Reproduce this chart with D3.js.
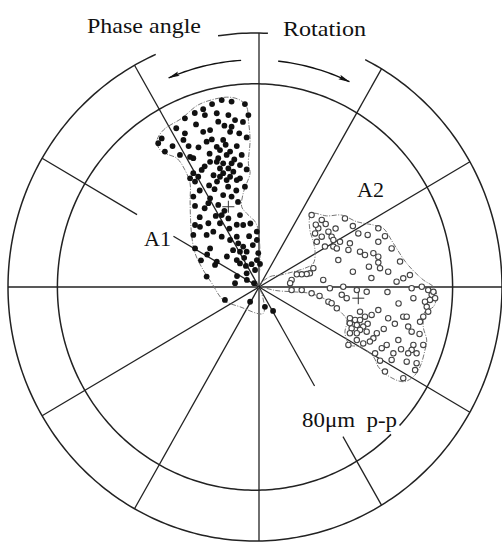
<!DOCTYPE html>
<html>
<head>
<meta charset="utf-8">
<script src="https://cdn.jsdelivr.net/npm/d3@7"></script>
<style>
body { margin: 0; background: #fff; }
svg { display: block; }
</style>
</head>
<body>
<svg id="chart" width="502" height="545"></svg>
<script>
// vibration vectors in um p-p, [horizontal component, vertical component]
var a1Points = [[-15.1,73.6],[-11.1,73.0],[-5.7,72.0],[-22.6,70.0],[-17.1,68.4],[-21.9,67.7],[-12.4,67.7],[-30.0,66.4],
  [-4.3,67.7],[-16.5,65.1],[-9.7,65.7],[-11.1,63.1],[-19.8,61.8],[-22.6,61.1],[-11.7,61.1],[-30.0,60.5],[-19.1,58.1],
  [-5.0,58.9],[-21.2,57.2],[-14.5,57.9],[-30.6,57.9],[-39.4,58.5],[-40.8,56.6],[-38.1,53.3],[-17.1,55.2],[-15.8,53.9],
  [-11.7,53.3],[-32.0,52.0],[-13.1,52.0],[-7.0,52.0],[-16.5,50.7],[-26.6,50.7],[-19.8,49.3],[-17.1,49.3],[-14.5,48.7],
  [-11.1,48.7],[-7.7,48.0],[-5.0,46.3],[-15.8,46.7],[-12.4,46.7],[-14.5,44.8],[-10.4,45.4],[-23.2,46.1],[-26.6,44.8],
  [-27.9,42.8],[-24.6,43.4],[-7.7,42.8],[-9.0,42.1],[-25.9,41.5],[-15.8,43.4],[-11.7,43.4],[-13.1,42.1],[-5.7,39.5],
  [-26.6,35.6],[-19.8,34.9],[-14.5,36.2],[-11.1,35.6],[-16.5,32.3],[-7.7,28.3],[-15.1,28.3],[-12.4,27.0],[-15.8,25.1],
  [-20.5,25.1],[-23.9,23.7],[-25.9,24.4],[-6.4,24.4],[-0.9,21.8],[-21.2,20.5],[-15.1,19.8],[-9.0,19.8],[-11.7,18.5],
  [-26.6,20.5],[-0.9,18.5],[-8.4,17.2],[-6.4,15.9],[-7.7,13.9],[-5.0,13.9],[-0.3,13.3],[-19.8,15.2],[-25.9,15.2],
  [-17.1,10.0],[-17.8,8.7],[-9.0,10.6],[-7.7,9.3],[-0.9,10.6],[-1.6,6.7],[-5.0,5.4],[-21.2,4.1],[-9.7,1.5],[-13.8,-5.1],
  [-3.6,-5.8],[2.4,-7.8],[5.7,-9.4],[-27.9,51.2],[-25.9,31.9],[-8.9,4.3],[-4.9,2.8],[-5.3,8.3],[0.4,9.1],[-13.5,56.0],
  [-10.0,50.2],[-18.4,44.0],[-9.2,38.0],[-14.0,30.0],[-20.2,40.0],[-12.0,23.0],[-18.0,38.5],[-22.0,31.0],
  [-3.5,25.0],[-2.5,16.5],[-4.0,20.0],[-6.0,11.5],[-3.0,9.0],[-10.5,14.5],[-13.0,12.0],[-23.5,10.5],[-21.0,12.8],
  [-24.0,27.5],[-18.5,21.8],[-9.0,24.5],[-17.5,28.0],[-20.5,33.0],[-8.5,33.5],[-24.0,38.0],[-17.0,41.5],[-12.5,39.5],
  [-20.0,52.5],[-9.0,55.5],[-24.5,55.0],[-28.5,55.5],[-35.0,55.5],[-14.0,63.5],[-25.5,64.0],[-8.0,60.5],[-6.5,65.0],
  [-19.0,72.0],[-26.0,68.5],[-33.5,62.5],[-22.0,47.5],[-2.0,1.5]];

var a2Points = [[21.3,28.3],[25.4,26.4],[34.8,27.0],[24.0,23.1],[28.1,21.8],[22.7,21.1],[25.4,19.8],[29.4,19.8],
  [30.1,18.5],[32.8,17.8],[40.2,21.1],[48.3,23.1],[36.8,17.2],[48.3,17.8],[30.1,15.9],[26.7,15.9],[31.5,15.2],[23.4,17.8],
  [36.2,14.6],[40.9,13.9],[42.9,12.6],[46.3,13.3],[48.3,11.9],[53.7,15.2],[32.1,10.6],[48.3,9.6],[49.0,7.4],[52.3,6.0],
  [22.0,7.4],[20.6,5.4],[19.3,5.1],[17.3,5.0],[15.3,5.0],[13.2,2.8],[12.6,1.5],[26.0,2.8],[55.7,2.1],[58.4,3.4],[61.1,4.7],
  [57.1,10.0],[17.3,-1.2],[21.3,-2.5],[13.2,-1.2],[28.7,-0.5],[34.1,0.1],[39.6,-1.2],[43.6,-1.9],[33.5,-3.1],[35.5,-4.4],
  [28.1,-5.8],[29.4,-6.4],[31.5,-8.4],[48.3,-9.1],[45.6,-11.0],[36.8,-12.3],[38.9,-13.0],[40.9,-13.0],[42.9,-11.7],
  [36.8,-14.3],[39.6,-15.0],[42.2,-15.6],[37.5,-16.3],[40.9,-16.9],[36.8,-18.2],[39.6,-18.2],[43.6,-17.6],[47.7,-18.2],
  [46.3,-20.2],[52.3,-12.3],[58.4,-11.7],[59.8,-11.7],[61.8,-0.5],[65.9,0.1],[62.5,-4.4],[68.5,-1.2],[69.9,-3.1],
  [71.3,-4.4],[69.2,-5.1],[67.2,-5.8],[70.6,-1.9],[67.9,-7.8],[68.5,-9.7],[66.5,-11.7],[65.2,-13.7],[60.4,-15.6],
  [61.8,-17.6],[56.4,-20.9],[62.5,-22.8],[61.8,-24.8],[60.4,-26.1],[63.8,-26.1],[66.5,-22.8],[51.7,-22.8],[49.7,-24.1],
  [42.2,-22.2],[44.9,-21.5],[47.0,-26.1],[54.4,-26.1],[53.7,-28.7],[59.8,-29.4],[63.8,-30.0],[63.2,-32.7],[51.0,-33.3],
  [58.4,-35.9],[36.2,-22.8],[39.6,-20.9],[40.9,-9.7],
  [24.5,-3.5],[23.0,24.5],[27.0,24.8],[31.0,23.0],[38.0,24.0],[44.0,20.5],[51.0,20.0],[44.5,8.0],[38.0,6.0],[45.5,3.5],
  [52.0,-2.0],[56.5,-6.5],[50.5,-16.5],[55.0,-14.5],[57.5,-24.5],[49.0,-29.0],[65.0,-18.5],[44.0,-14.5]];

// envelopes drawn round each group
var a1Outline = [[-0.3,0.1],[0.4,8.0],[-0.3,22.4],[-1.6,25.7],[-5.0,29.0],[-7.0,31.6],[-6.4,36.9],[-5.0,40.8],[-3.6,44.8],
  [-4.3,48.7],[-3.6,57.9],[-4.3,65.7],[-5.0,71.0],[-7.7,73.6],[-11.7,74.7],[-16.5,74.3],[-24.6,71.7],[-31.3,66.4],
  [-38.7,61.8],[-41.4,57.2],[-39.4,53.3],[-33.3,50.7],[-30.0,46.1],[-27.9,40.8],[-27.9,34.3],[-27.7,26.4],[-27.2,19.8],
  [-25.9,13.3],[-22.6,6.7],[-19.1,1.5],[-14.5,-5.1],[-7.7,-7.8],[1.7,-10.4],[1.1,-2.5]];
var a2Outline = [[0.4,0.8],[4.5,4.1],[8.5,4.7],[13.9,6.0],[18.6,7.4],[22.0,9.3],[22.7,13.9],[22.0,17.8],[20.6,22.4],
  [20.6,27.7],[22.0,29.0],[27.4,28.0],[33.5,28.3],[39.6,25.7],[46.3,24.4],[50.3,23.1],[54.4,17.2],[59.8,9.3],[66.5,2.8],
  [70.6,0.1],[71.9,-3.1],[70.6,-7.8],[67.2,-9.7],[66.5,-15.6],[67.9,-20.9],[67.2,-24.8],[65.2,-31.4],[62.5,-35.3],
  [58.4,-37.3],[51.7,-34.6],[48.3,-31.4],[46.3,-27.4],[40.9,-23.5],[36.8,-22.8],[34.8,-18.2],[35.5,-13.0],[31.5,-8.4],
  [27.4,-5.1],[20.6,-2.5],[13.9,-1.9],[5.8,-1.2]];

// mean vector of each group
var means = [[-12.4,31.6],[40.2,-4.4]];

// grid
var rings = [80, 100];            // um p-p
var spokeAngles = [0, 30, 60, 90, 120, 150, 180, 210, 240, 270, 300, 330];

var svg = d3.select("#chart");
var serif = "'Liberation Serif', 'Times New Roman', Times, serif";

var ox = 259, oy = 287;           // where the spokes meet
var ringCx = 255;                 // the drawn rings sit a little left of it
var rxS = d3.scaleLinear().domain([0, 100]).range([0, 247]);
var ryS = d3.scaleLinear().domain([0, 100]).range([0, 254]);
var x = d3.scaleLinear().domain([-100, 100]).range([ox - 247, ox + 247]);
var y = d3.scaleLinear().domain([-100, 100]).range([oy + 254, oy - 254]);

var rad = Math.PI / 180;
function ringPt(r, a) {
  return [ringCx + rxS(r) * Math.cos(a * rad), oy - ryS(r) * Math.sin(a * rad)];
}
function arcPts(r, a0, a1) {
  var pts = [];
  for (var a = a0; a < a1; a += 1) pts.push(ringPt(r, a));
  pts.push(ringPt(r, a1));
  return pts;
}
var line = d3.line();

// radius (um) where a spoke from the origin meets the outer ring
var u0 = (ox - ringCx) / rxS(100);
function edge(a) {
  var c = Math.cos(a * rad);
  return 100 * (-u0 * c + Math.sqrt(u0 * u0 * c * c - u0 * u0 + 1));
}

// gaps left in spokes for the labels
var spokeGaps = { 150: [[0, 40], [57, null]], 300: [[0, 45], [68, null]] };

var grid = svg.append("g").attr("stroke", "#222").attr("fill", "none");

spokeAngles.forEach(function(a) {
  var segs = spokeGaps[a] || [[0, null]];
  segs.forEach(function(s) {
    var r0 = s[0], r1 = s[1] === null ? edge(a) : s[1];
    grid.append("line")
      .attr("x1", x(r0 * Math.cos(a * rad))).attr("y1", y(r0 * Math.sin(a * rad)))
      .attr("x2", x(r1 * Math.cos(a * rad))).attr("y2", y(r1 * Math.sin(a * rad)))
      .attr("stroke-width", 1.3);
  });
});

// inner ring, broken where the scale label sits
grid.append("path").attr("d", line(arcPts(rings[0], -43, 313.5))).attr("stroke-width", 1.5);
// outer ring, open at the top for the titles
grid.append("path").attr("d", line(arcPts(rings[1], 113.7, 423.5))).attr("stroke-width", 1.5);
grid.append("path").attr("d", line(arcPts(rings[1], 87, 98.6))).attr("stroke-width", 1.5);

// rotation arrows
svg.append("defs").append("marker")
  .attr("id", "head").attr("viewBox", "0 0 12 6")
  .attr("refX", 11).attr("refY", 3)
  .attr("markerWidth", 12).attr("markerHeight", 6)
  .attr("markerUnits", "userSpaceOnUse")
  .attr("orient", "auto")
  .append("path").attr("d", "M0,0.6 L12,3 L0,5.4 L2,3 Z").attr("fill", "#111");

svg.append("path").attr("d", line(arcPts(89.4, 93.6, 113)))
  .attr("fill", "none").attr("stroke", "#111").attr("stroke-width", 1.4).attr("marker-end", "url(#head)");
svg.append("path").attr("d", line(arcPts(89.4, 64.7, 84).reverse()))
  .attr("fill", "none").attr("stroke", "#111").attr("stroke-width", 1.4).attr("marker-end", "url(#head)");

// envelopes
var env = d3.line().x(function(d) { return x(d[0]); }).y(function(d) { return y(d[1]); })
  .curve(d3.curveCatmullRomClosed);
[a1Outline, a2Outline].forEach(function(o) {
  svg.append("path").attr("d", env(o))
    .attr("fill", "none").attr("stroke", "#777").attr("stroke-width", 1)
    .attr("stroke-dasharray", "5,1.5,1,1.5");
});

// points
svg.append("g").selectAll("circle").data(a2Points).enter().append("circle")
  .attr("cx", function(d) { return x(d[0]); })
  .attr("cy", function(d) { return y(d[1]); })
  .attr("r", 2.7)
  .attr("fill", "#fff").attr("stroke", "#444").attr("stroke-width", 1.1);

svg.append("g").selectAll("circle").data(a1Points).enter().append("circle")
  .attr("cx", function(d) { return x(d[0]); })
  .attr("cy", function(d) { return y(d[1]); })
  .attr("r", 2.9)
  .attr("fill", "#111");

// mean markers
svg.append("g").selectAll("path").data(means).enter().append("path")
  .attr("d", function(d) {
    var cx = x(d[0]), cy = y(d[1]);
    return "M" + (cx - 6) + "," + cy + "H" + (cx + 6) + "M" + cx + "," + (cy - 6) + "V" + (cy + 6);
  })
  .attr("stroke", "#333").attr("stroke-width", 1);

// labels
function label(tx, ty, size, str, len) {
  var t = svg.append("text").attr("x", tx).attr("y", ty)
    .attr("font-family", serif).attr("font-size", size).attr("fill", "#111").text(str);
  if (len) t.attr("textLength", len).attr("lengthAdjust", "spacingAndGlyphs");
  return t;
}
label(87, 33, 21, "Phase angle", 114);
label(283, 36, 21, "Rotation", 83);
label(144, 246, 22, "A1");
label(357, 197, 22, "A2");
label(302, 427, 22, "80\u03bcm\u00a0 p-p", 95);
</script>
</body>
</html>
